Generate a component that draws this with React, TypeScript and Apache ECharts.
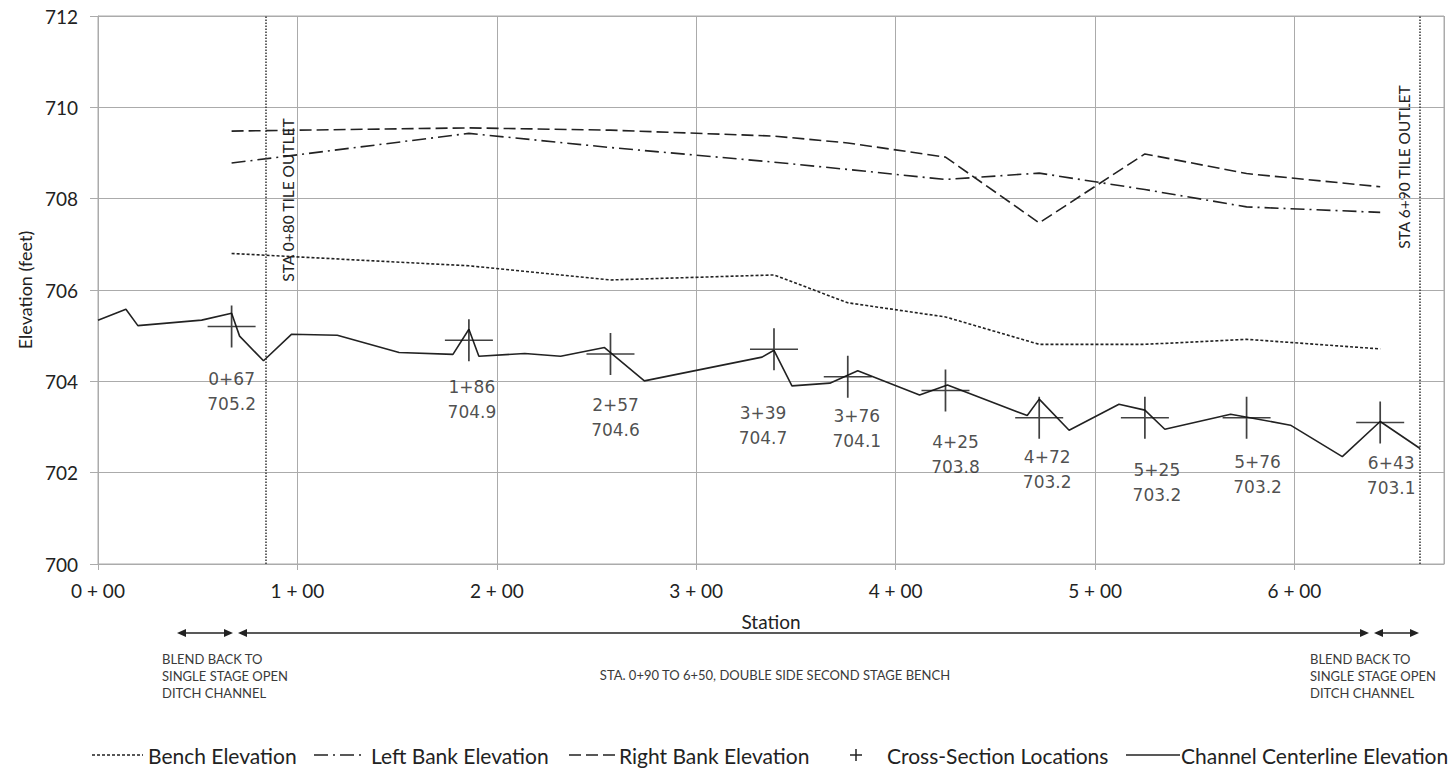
import React, { useEffect, useRef } from "react";
import * as echarts from "echarts";

// ---------- data ----------
const channelStations = [0, 14, 20, 52, 67, 71, 83, 97, 120, 151, 178, 186, 191, 214, 232, 254, 274, 333, 339, 348, 367, 381, 412, 426, 466, 472, 487, 512, 525, 535, 568, 598, 624, 643, 663];
const channelElev = [705.34, 705.58, 705.22, 705.34, 705.49, 704.99, 704.45, 705.03, 705.01, 704.63, 704.59, 705.14, 704.55, 704.61, 704.55, 704.74, 704.01, 704.53, 704.68, 703.9, 703.96, 704.23, 703.7, 703.92, 703.25, 703.61, 702.93, 703.5, 703.37, 702.95, 703.28, 703.04, 702.35, 703.12, 702.53];

const xsStations = [67, 186, 257, 339, 376, 425, 472, 525, 576, 643];
const xsElev = [705.2, 704.9, 704.6, 704.7, 704.1, 703.8, 703.2, 703.2, 703.2, 703.1];
const benchElev = [706.8, 706.53, 706.22, 706.33, 705.72, 705.41, 704.81, 704.81, 704.92, 704.71];
const leftBankElev = [708.78, 709.43, 709.12, 708.8, 708.64, 708.42, 708.56, 708.2, 707.82, 707.7];
const rightBankElev = [709.48, 709.55, 709.5, 709.37, 709.22, 708.91, 707.47, 708.98, 708.55, 708.26];

const outletStations = [84, 663];
const outletLabels = ["STA 0+80 TILE OUTLET", "STA 6+90 TILE OUTLET"];

const seriesNames = ["Bench Elevation", "Left Bank Elevation", "Right Bank Elevation", "Cross-Section Locations", "Channel Centerline Elevation"];

const blendText = "BLEND BACK TO\nSINGLE STAGE OPEN\nDITCH CHANNEL";
const benchText = "STA. 0+90 TO 6+50, DOUBLE SIDE SECOND STAGE BENCH";

// ---------- layout / style ----------
const xsLabelOffsets = [[0, 65], [3, 59], [5, 64], [-11, 76], [9, 52], [10, 64], [8, 52], [12, 65], [11, 57], [11, 53]];
const INK = "#222";
const GRIDC = "#ababab";
const LAT = "Lato, 'Liberation Sans', sans-serif";

function staLabel(s: number) {
  const h = Math.floor(s / 100);
  const r = s % 100;
  return `${h}+${String(r).padStart(2, "0")}`;
}

function arrow(x1: number, x2: number, y: number) {
  const L = 9, H = 4;
  return [
    { type: "line", shape: { x1: x1 + 2, y1: y, x2: x2 - 2, y2: y }, style: { stroke: INK, lineWidth: 1.5 } },
    { type: "polygon", shape: { points: [[x1, y], [x1 + L, y - H], [x1 + L, y + H]] }, style: { fill: INK } },
    { type: "polygon", shape: { points: [[x2, y], [x2 - L, y - H], [x2 - L, y + H]] }, style: { fill: INK } },
  ];
}

function txt(x: number, y: number, text: string, size: number, align = "left", vAlign = "middle", extra: any = {}) {
  return {
    type: "text",
    x,
    y,
    ...extra,
    style: {
      text,
      fontSize: size,
      fontFamily: LAT,
      fill: extra.fill || INK,
      lineHeight: extra.lineHeight || size * 1.2,
      align,
      verticalAlign: vAlign,
      textAlign: align,
      textVerticalAlign: vAlign,
    },
  };
}

export default function App() {
  const ref = useRef<HTMLDivElement>(null);
  useEffect(() => {
    if (!ref.current) return;
    const chart = echarts.init(ref.current, undefined, { renderer: "svg" });
    const pair = (xs: number[], ys: number[]) => xs.map((x, i) => [x, ys[i]]);
    const lineSeries = (name: string, data: number[][], type: any, extra: any = {}) => ({
      name,
      type: "line",
      data,
      symbol: "none",
      lineStyle: { color: INK, width: 1.6, type },
      z: 3,
      ...extra,
    });

    const legendY = 755;
    const LF = 21;
    const legendGraphics: any[] = [
      { type: "line", shape: { x1: 92, y1: legendY, x2: 143, y2: legendY }, style: { stroke: INK, lineWidth: 1.6, lineDash: [3, 2] } },
      txt(148, legendY, seriesNames[0], LF),
      { type: "line", shape: { x1: 314, y1: legendY, x2: 362, y2: legendY }, style: { stroke: INK, lineWidth: 1.6, lineDash: [14, 5, 2, 5] } },
      txt(371, legendY, seriesNames[1], LF),
      { type: "line", shape: { x1: 569, y1: legendY, x2: 616, y2: legendY }, style: { stroke: INK, lineWidth: 1.6, lineDash: [12, 5] } },
      txt(619, legendY, seriesNames[2], LF),
      { type: "line", shape: { x1: 850, y1: legendY, x2: 862, y2: legendY }, style: { stroke: INK, lineWidth: 1.5 } },
      { type: "line", shape: { x1: 856, y1: legendY - 6, x2: 856, y2: legendY + 6 }, style: { stroke: INK, lineWidth: 1.5 } },
      txt(887, legendY, seriesNames[3], LF),
      { type: "line", shape: { x1: 1126, y1: legendY, x2: 1180, y2: legendY }, style: { stroke: INK, lineWidth: 1.6 } },
      txt(1181, legendY, seriesNames[4], LF),
    ];

    const arrowY = 633;
    const annot: any[] = [
      ...arrow(177, 233, arrowY),
      ...arrow(238, 1369, arrowY),
      ...arrow(1374, 1419, arrowY),
      txt(162, 650, blendText, 13, "left", "top", { lineHeight: 17, fill: "#3a3a3a" }),
      txt(1310, 650, blendText, 13, "left", "top", { lineHeight: 17, fill: "#3a3a3a" }),
      txt(775, 675, benchText, 13, "center", "middle", { fill: "#3a3a3a" }),
      txt(288, 200, outletLabels[0], 15.5, "center", "middle", { rotation: Math.PI / 2 }),
      txt(1404, 167, outletLabels[1], 15.5, "center", "middle", { rotation: Math.PI / 2 }),
    ];

    chart.setOption({
      animation: false,
      backgroundColor: "#ffffff",
      grid: { left: 98, right: 11, top: 16, bottom: 204, show: true, borderColor: GRIDC, borderWidth: 1 },
      xAxis: {
        type: "value",
        min: 0,
        max: 675,
        interval: 100,
        name: "Station",
        nameLocation: "middle",
        nameGap: 48,
        nameTextStyle: { fontFamily: LAT, fontSize: 19, color: INK },
        axisLine: { show: true, lineStyle: { color: GRIDC } },
        axisTick: { show: true, length: 6, lineStyle: { color: GRIDC } },
        splitLine: { show: true, lineStyle: { color: GRIDC, width: 1 } },
        axisLabel: {
          showMaxLabel: false,
          margin: 17,
          fontFamily: LAT,
          fontSize: 19,
          color: INK,
          formatter: (v: number) => (v % 100 === 0 ? `${v / 100} + 00` : ""),
        },
      },
      yAxis: {
        type: "value",
        min: 700,
        max: 712,
        interval: 2,
        name: "Elevation (feet)",
        nameLocation: "middle",
        nameGap: 64,
        nameTextStyle: { fontFamily: LAT, fontSize: 18, color: INK },
        axisLine: { show: true, lineStyle: { color: GRIDC } },
        axisTick: { show: true, length: 8, lineStyle: { color: GRIDC } },
        splitLine: { show: true, lineStyle: { color: GRIDC, width: 1 } },
        axisLabel: { margin: 20, fontFamily: LAT, fontSize: 19, color: INK },
      },
      series: [
        lineSeries(seriesNames[0], pair(xsStations, benchElev), [3, 2]),
        lineSeries(seriesNames[1], pair(xsStations, leftBankElev), [14, 5, 2, 5]),
        lineSeries(seriesNames[2], pair(xsStations, rightBankElev), [12, 5]),
        {
          name: seriesNames[3],
          type: "scatter",
          symbol: "path://M24,0L24,42M0,21L48,21",
          symbolSize: [48, 42],
          itemStyle: { color: "rgba(0,0,0,0)", borderColor: "#111", borderWidth: 1.6 },
          z: 5,
          data: xsStations.map((s, i) => ({
            value: [s, xsElev[i]],
            label: { offset: xsLabelOffsets[i] },
          })),
          label: {
            show: true,
            position: "inside",
            fontFamily: "'DejaVu Sans', Verdana, sans-serif",
            fontSize: 17,
            lineHeight: 25,
            color: INK,
            formatter: (p: any) => `${staLabel(p.value[0])}\n${p.value[1].toFixed(1)}`,
          },
        },
        lineSeries(seriesNames[4], pair(channelStations, channelElev), "solid", {
          markLine: {
            silent: true,
            symbol: ["none", "none"],
            label: { show: false },
            lineStyle: { color: "#333", width: 1.5, type: [1.5, 1.5] },
            data: outletStations.map((s) => ({ xAxis: s })),
          },
        }),
      ],
      graphic: [...legendGraphics, ...annot],
    });
    return () => chart.dispose();
  }, []);
  return <div ref={ref} style={{ position: "fixed", left: 0, top: 0, width: 1455, height: 768, background: "#fff" }} />;
}
